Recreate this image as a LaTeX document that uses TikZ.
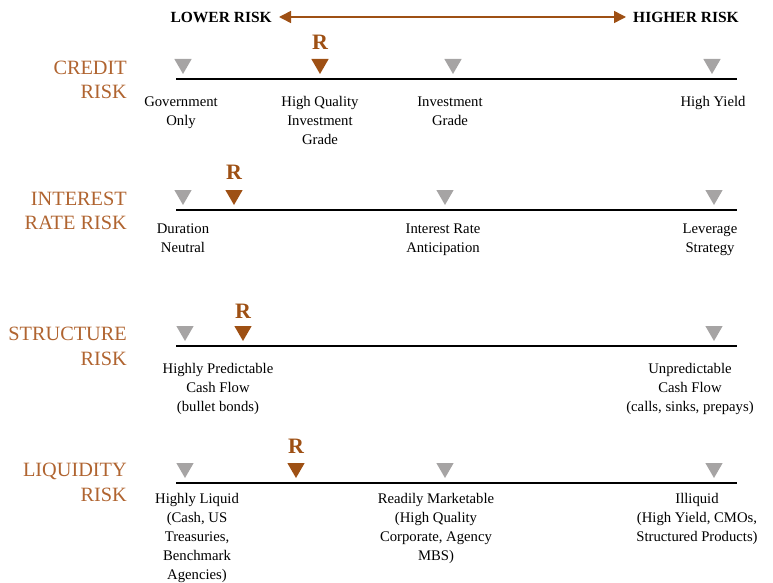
\documentclass[tikz,border=0pt]{standalone}
\usepackage{fontspec}
\setmainfont{Liberation Serif}
\usetikzlibrary{shapes.geometric,arrows.meta}
\definecolor{rbrown}{RGB}{158,80,20}
\definecolor{lbrown}{RGB}{176,100,48}
\definecolor{tgrey}{RGB}{166,164,164}
\tikzset{
  x=1pt,y=-1pt,
  hdr/.style={font=\fontsize{15.5}{18}\selectfont\bfseries,inner sep=0pt},
  rowlbl/.style={font=\fontsize{20.3}{24.5}\selectfont,text=lbrown,align=right,anchor=north east,inner sep=0pt},
  lbl/.style={font=\fontsize{14.7}{19}\selectfont,align=center,anchor=north,inner sep=0pt},
  gtri/.style={regular polygon,regular polygon sides=3,shape border rotate=180,minimum size=20pt,inner sep=0pt,fill=tgrey},
  rtri/.style={gtri,fill=rbrown},
  rmark/.style={font=\fontsize{22}{24}\selectfont\bfseries,text=rbrown,inner sep=0pt},
  riskline/.style={line width=2.8pt,black},
  harrow/.style={rbrown,line width=1.5pt,{Triangle[length=12pt,width=12pt]}-{Triangle[length=12pt,width=12pt]}},
}
\begin{document}
\begin{tikzpicture}
\useasboundingbox (0,0) rectangle (773,583);
% header
\node[hdr,anchor=east] (low) at (272,17) {LOWER RISK};
\node[hdr,anchor=west] (high) at (633,17) {HIGHER RISK};
\draw[harrow] ([xshift=7pt]low.east) -- ([xshift=-7pt]high.west);

% ---------- CREDIT ----------
\node[rowlbl] (credit) at (127,60.5) {CREDIT\\RISK};
\coordinate (cl) at (176,79); \coordinate (cr) at (737,79);
\draw[riskline] (cl) -- (cr);
\node[gtri] (c1) at (183,64) {};
\node[rtri] (c2) at (320,64) {};
\node[gtri] (c3) at (453,64) {};
\node[gtri] (c4) at (712,64) {};
\node[rmark] (cR) at (320,42) {R};
\node[lbl] (ct1) at (181,96.5) {Government\\Only};
\node[lbl] (ct2) at (320,96.5) {High Quality\\Investment\\Grade};
\node[lbl] (ct3) at (450,96.5) {Investment\\Grade};
\node[lbl] (ct4) at (713,96.5) {High Yield};

% ---------- INTEREST ----------
\node[rowlbl] (interest) at (127,191.5) {INTEREST\\RATE RISK};
\coordinate (il) at (176,210); \coordinate (ir) at (737,210);
\draw[riskline] (il) -- (ir);
\node[gtri] (i1) at (183,195) {};
\node[rtri] (i2) at (234,195) {};
\node[gtri] (i3) at (445,195) {};
\node[gtri] (i4) at (714,195) {};
\node[rmark] (iR) at (234,172) {R};
\node[lbl] (it1) at (183,224) {Duration\\Neutral};
\node[lbl] (it2) at (443,224) {Interest Rate\\Anticipation};
\node[lbl] (it3) at (710,224) {Leverage\\Strategy};

% ---------- STRUCTURE ----------
\node[rowlbl] (structure) at (127,327) {STRUCTURE\\RISK};
\coordinate (sl) at (176,346); \coordinate (sr) at (737,346);
\draw[riskline] (sl) -- (sr);
\node[gtri] (s1) at (185,331) {};
\node[rtri] (s2) at (243,331) {};
\node[gtri] (s3) at (714,331) {};
\node[rmark] (sR) at (243,311) {R};
\node[lbl] (st1) at (218,363) {Highly Predictable\\Cash Flow\\(bullet bonds)};
\node[lbl] (st2) at (690,363) {Unpredictable\\Cash Flow\\(calls, sinks, prepays)};

% ---------- LIQUIDITY ----------
\node[rowlbl] (liquidity) at (127,463) {LIQUIDITY\\RISK};
\coordinate (ll) at (176,483); \coordinate (lr) at (737,483);
\draw[riskline] (ll) -- (lr);
\node[gtri] (l1) at (185,468) {};
\node[rtri] (l2) at (296,468) {};
\node[gtri] (l3) at (445,468) {};
\node[gtri] (l4) at (714,468) {};
\node[rmark] (lR) at (296,446) {R};
\node[lbl] (lt1) at (197,493) {Highly Liquid\\(Cash, US\\Treasuries,\\Benchmark\\Agencies)};
\node[lbl] (lt2) at (436,493) {Readily Marketable\\(High Quality\\Corporate, Agency\\MBS)};
\node[lbl] (lt3) at (697,493) {Illiquid\\(High Yield, CMOs,\\Structured Products)};
\end{tikzpicture}
\end{document}
